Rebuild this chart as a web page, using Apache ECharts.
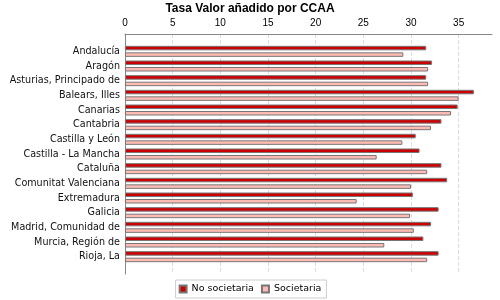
<!DOCTYPE html>
<html>
<head>
<meta charset="utf-8">
<script src="https://cdn.jsdelivr.net/npm/echarts@6/dist/echarts.min.js"></script>
<style>
  html, body { margin: 0; padding: 0; background: #fff; }
  #main { width: 500px; height: 300px; }
</style>
</head>
<body>
<div id="main"></div>
<script>
// comunidades autonomas
const regiones = [
  'Andalucía', 'Aragón', 'Asturias, Principado de', 'Balears, Illes', 'Canarias',
  'Cantabria', 'Castilla y León', 'Castilla - La Mancha', 'Cataluña',
  'Comunitat Valenciana', 'Extremadura', 'Galicia', 'Madrid, Comunidad de',
  'Murcia, Región de', 'Rioja, La'
];
const noSocietaria = [31.6, 32.2, 31.6, 36.6, 34.9, 33.2, 30.5, 30.9, 33.2, 33.8, 30.2, 32.9, 32.1, 31.3, 32.9];
const societaria   = [29.2, 31.8, 31.8, 35.0, 34.2, 32.1, 29.1, 26.4, 31.7, 30.0, 24.3, 29.9, 30.3, 27.2, 31.7];
const xMax = 38.5;

const chart = echarts.init(document.getElementById('main'));

const barBorder = { borderColor: '#777', borderWidth: 1 };

const option = {
  animation: false,
  title: {
    text: 'Tasa Valor añadido por CCAA',
    left: 'center',
    top: -2,
    textStyle: { fontFamily: 'Liberation Sans', fontSize: 12, fontWeight: 'bold', color: '#000' }
  },
  legend: {
    bottom: 2,
    left: 'center',
    itemWidth: 7,
    itemHeight: 7,
    itemGap: 7,
    padding: [4, 5, 4, 3],
    borderColor: '#ccc',
    borderWidth: 1,
    icon: 'rect',
    textStyle: { fontFamily: 'DejaVu Sans', fontSize: 9.5, color: '#000' },
    data: ['No societaria', 'Societaria']
  },
  // grid 0 = marco y ejes, grid 1 = barras
  grid: [
    { left: 125, right: 8, top: 34, bottom: 26 },
    { left: 125, right: 8, top: 44, bottom: 36 }
  ],
  xAxis: [
    {
      gridIndex: 0,
      type: 'value',
      position: 'top',
      min: 0,
      max: xMax,
      interval: 5,
      axisLine: { show: true, lineStyle: { color: '#888' } },
      axisTick: { show: false },
      axisLabel: {
        margin: 6,
        showMaxLabel: false,
        fontFamily: 'Liberation Sans',
        fontSize: 10,
        color: '#000'
      },
      splitLine: {
        show: true,
        showMinLine: false,
        showMaxLine: false,
        lineStyle: { color: '#ddd', type: 'dashed' }
      }
    },
    {
      gridIndex: 1,
      type: 'value',
      min: 0,
      max: xMax,
      show: false
    }
  ],
  yAxis: [
    {
      gridIndex: 0,
      type: 'category',
      data: regiones,
      axisLine: { show: true, lineStyle: { color: '#888' } },
      axisTick: { show: false },
      axisLabel: { show: false }
    },
    {
      gridIndex: 1,
      type: 'category',
      inverse: true,
      data: regiones,
      axisLine: { show: false },
      axisTick: { show: false },
      axisLabel: {
        margin: 5,
        fontFamily: 'DejaVu Sans',
        fontSize: 9.6,
        color: '#111'
      }
    }
  ],
  series: [
    {
      name: 'No societaria',
      type: 'bar',
      xAxisIndex: 1,
      yAxisIndex: 1,
      barWidth: 4.5,
      barGap: '45%',
      itemStyle: Object.assign({ color: '#cc0000' }, barBorder),
      data: noSocietaria
    },
    {
      name: 'Societaria',
      type: 'bar',
      xAxisIndex: 1,
      yAxisIndex: 1,
      barWidth: 4.5,
      barGap: '45%',
      itemStyle: Object.assign({ color: '#ffbbb3' }, barBorder),
      data: societaria
    }
  ]
};

chart.setOption(option);
</script>
</body>
</html>
